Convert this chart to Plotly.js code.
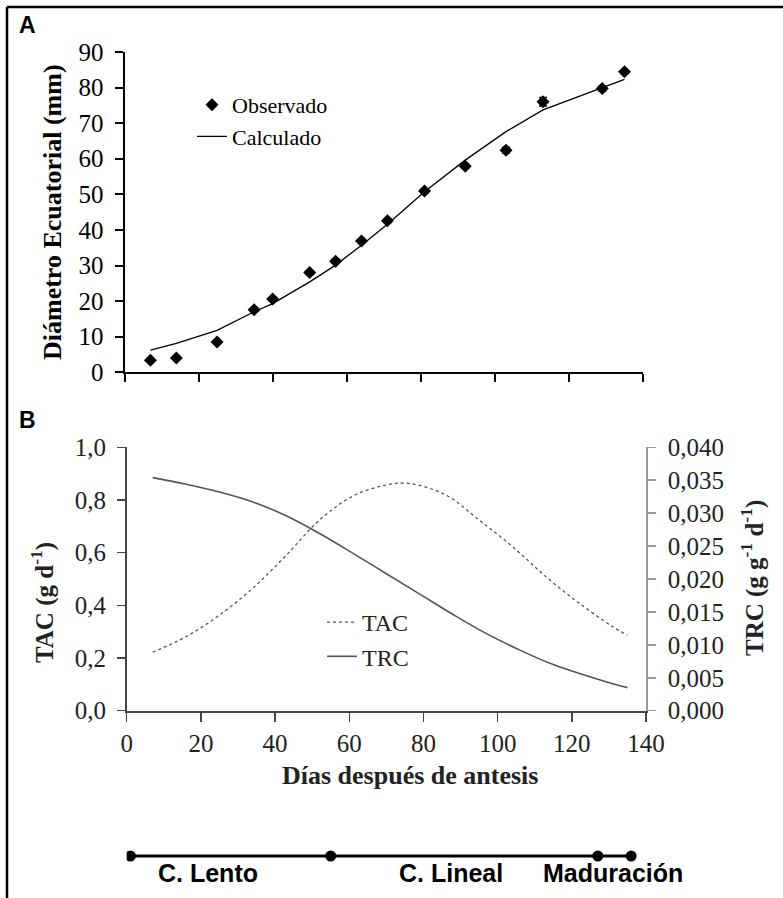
<!DOCTYPE html>
<html>
<head>
<meta charset="utf-8">
<script src="https://cdn.plot.ly/plotly-3.0.1.min.js"></script>
<style>html,body{margin:0;padding:0;background:#fff;}#chart{width:783px;height:898px;}</style>
</head>
<body>
<div id="chart"></div>
<script>
// Panel A: equatorial diameter (mm)
const diasA = [7, 14, 25, 35, 40, 50, 57, 64, 71, 81, 92, 103, 113, 129, 135];
const observado = [3.4, 4.0, 8.5, 17.6, 20.6, 28.0, 31.2, 36.9, 42.6, 50.9, 57.9, 62.4, 76.0, 79.7, 84.4];
const errorObs = [0.3, 0.3, 0.5, 0.5, 0.5, 0.5, 0.6, 0.5, 0.5, 0.6, 0.6, 0.8, 1.2, 0.7, 0.5];
const calculado = [6.2, 8.1, 11.8, 17.0, 19.3, 25.4, 30.1, 35.7, 41.6, 50.7, 59.6, 67.6, 73.7, 80.1, 82.3];

// Panel B: growth rates
const diasTAC = [7, 16, 25, 34, 43, 52, 61, 70, 76, 86, 95, 104, 113, 122, 131, 135];
const tac = [0.222, 0.281, 0.363, 0.465, 0.590, 0.724, 0.815, 0.857, 0.863, 0.819, 0.724, 0.623, 0.509, 0.408, 0.319, 0.287];
const diasTRC = [7, 16, 25, 34, 43, 52, 61, 70, 79, 88, 97, 106, 115, 124, 131, 135];
const trc = [0.0354, 0.0344, 0.0332, 0.0317, 0.0296, 0.0269, 0.0239, 0.0208, 0.0177, 0.0146, 0.0117, 0.0092, 0.0070, 0.0053, 0.0041, 0.0035];

// Phase timeline
const faseDias = [1, 55, 127, 136];
const faseNombres = ["C. Lento", "C. Lineal", "Maduración"];
const faseEtiquetaX = [22, 87.5, 131];

const W = 783, H = 898;
const px = v => v / W;
const py = v => 1 - v / H;

const serif = "Liberation Serif";
const sans = "Liberation Sans";

const traces = [
  {
    x: diasA, y: observado, name: "Observado", type: "scatter", mode: "markers",
    xaxis: "x", yaxis: "y", legend: "legend",
    marker: {symbol: "diamond", size: 10, color: "#000"},
    error_y: {type: "data", array: errorObs, visible: true, color: "#000", thickness: 1.5, width: 4}
  },
  {
    x: diasA, y: calculado, name: "Calculado", type: "scatter", mode: "lines",
    xaxis: "x", yaxis: "y", legend: "legend",
    line: {color: "#000", width: 1.3}
  },
  {
    x: diasTAC, y: tac, name: "TAC", type: "scatter", mode: "lines",
    xaxis: "x2", yaxis: "y2", legend: "legend2",
    line: {color: "#555", width: 1.3, dash: "dot", shape: "spline"}
  },
  {
    x: diasTRC, y: trc, name: "TRC", type: "scatter", mode: "lines",
    xaxis: "x2", yaxis: "y3", legend: "legend2",
    line: {color: "#555", width: 1.6, shape: "spline"}
  },
  {
    x: faseDias, y: faseDias.map(() => 0), type: "scatter", mode: "lines+markers",
    xaxis: "x3", yaxis: "y4", showlegend: false, hoverinfo: "skip",
    line: {color: "#000", width: 3}, marker: {color: "#000", size: 11}
  }
];

function ann(text, x, y, size, family, color, angle) {
  return {text: text, x: x, y: y, xref: "paper", yref: "paper", showarrow: false,
    xanchor: "center", yanchor: "middle", textangle: angle || 0,
    font: {family: family, size: size, color: color}};
}

const annotations = [
  ann("<b>A</b>", px(27), py(25), 23, sans, "#000"),
  ann("<b>B</b>", px(27), py(420), 23, sans, "#000"),
  ann("<b>Diámetro Ecuatorial (mm)</b>", px(52), py(212), 26, serif, "#000", -90),
  ann("<b>TAC (g d<sup>-1</sup>)</b>", px(42), py(603), 25, serif, "#222", -90),
  ann("<b>TRC (g g<sup>-1</sup> d<sup>-1</sup>)</b>", px(752), py(578), 25, serif, "#222", -90),
  ann("<b>Días después de antesis</b>", px(410), py(775), 26, serif, "#222")
];
faseNombres.forEach((n, i) => {
  annotations.push({text: "<b>" + n + "</b>", x: faseEtiquetaX[i], y: py(873), xref: "x3", yref: "paper",
    xanchor: "center", yanchor: "middle", showarrow: false,
    font: {family: sans, size: 25, color: "#000"}});
});

const layout = {
  width: W, height: H,
  margin: {l: 0, r: 0, t: 0, b: 0},
  paper_bgcolor: "#fff", plot_bgcolor: "rgba(0,0,0,0)",
  separators: ",.",
  font: {family: serif, color: "#000"},
  xaxis: {
    domain: [px(124.5), px(643)], anchor: "y", range: [0, 140], dtick: 20, tick0: 0,
    showticklabels: false, ticks: "outside", ticklen: 8, tickwidth: 2, tickcolor: "#000",
    showline: true, linecolor: "#000", linewidth: 2, showgrid: false, zeroline: false
  },
  yaxis: {
    domain: [py(372.3), py(51.9)], anchor: "x", range: [0, 90], dtick: 10, tick0: 0,
    ticks: "outside", ticklen: 8, tickwidth: 2, tickcolor: "#000", ticklabelstandoff: 6,
    showline: true, linecolor: "#000", linewidth: 2, showgrid: false, zeroline: false,
    tickfont: {family: serif, size: 25, color: "#000"}
  },
  xaxis2: {
    domain: [px(126.7), px(646)], anchor: "y2", range: [0, 140], dtick: 20, tick0: 0,
    ticks: "outside", ticklen: 9, tickwidth: 1.5, tickcolor: "#444",
    showline: true, linecolor: "#444", linewidth: 1.8, showgrid: false, zeroline: false,
    tickfont: {family: serif, size: 25, color: "#222"}
  },
  yaxis2: {
    domain: [py(710.7), py(447.3)], anchor: "x2", range: [0, 1], dtick: 0.2, tick0: 0,
    tickformat: ".1f", ticklabelstandoff: 6,
    ticks: "outside", ticklen: 8, tickwidth: 1.5, tickcolor: "#444",
    showline: true, linecolor: "#444", linewidth: 1.8, showgrid: false, zeroline: false,
    tickfont: {family: serif, size: 25, color: "#222"}
  },
  yaxis3: {
    overlaying: "y2", side: "right", anchor: "x2", range: [0, 0.04], dtick: 0.005, tick0: 0,
    tickformat: ".3f", ticklabelstandoff: 7,
    ticks: "outside", ticklen: 8, tickwidth: 1.5, tickcolor: "#999",
    showline: true, linecolor: "#999", linewidth: 1.8, showgrid: false, zeroline: false,
    tickfont: {family: serif, size: 25, color: "#222"}
  },
  xaxis3: {domain: [px(126.7), px(646)], anchor: "y4", range: [0, 140], visible: false},
  yaxis4: {domain: [0.03, 0.06354], anchor: "x3", range: [-1, 1], visible: false},
  legend: {
    x: px(192), y: py(84), xanchor: "left", yanchor: "top",
    bgcolor: "rgba(0,0,0,0)", borderwidth: 0,
    font: {family: serif, size: 22, color: "#000"}
  },
  legend2: {
    x: px(322), y: py(600), xanchor: "left", yanchor: "top",
    bgcolor: "rgba(0,0,0,0)", borderwidth: 0,
    font: {family: serif, size: 24, color: "#222"}
  },
  annotations: annotations,
  shapes: [
    {type: "line", xref: "paper", yref: "paper", x0: px(7), x1: 1, y0: py(7), y1: py(7),
     line: {color: "#000", width: 2.5}},
    {type: "line", xref: "paper", yref: "paper", x0: px(7), x1: px(7), y0: py(7), y1: 0,
     line: {color: "#000", width: 2.5}}
  ],
  showlegend: true
};

Plotly.newPlot("chart", traces, layout, {displayModeBar: false, staticPlot: true});
</script>
</body>
</html>
